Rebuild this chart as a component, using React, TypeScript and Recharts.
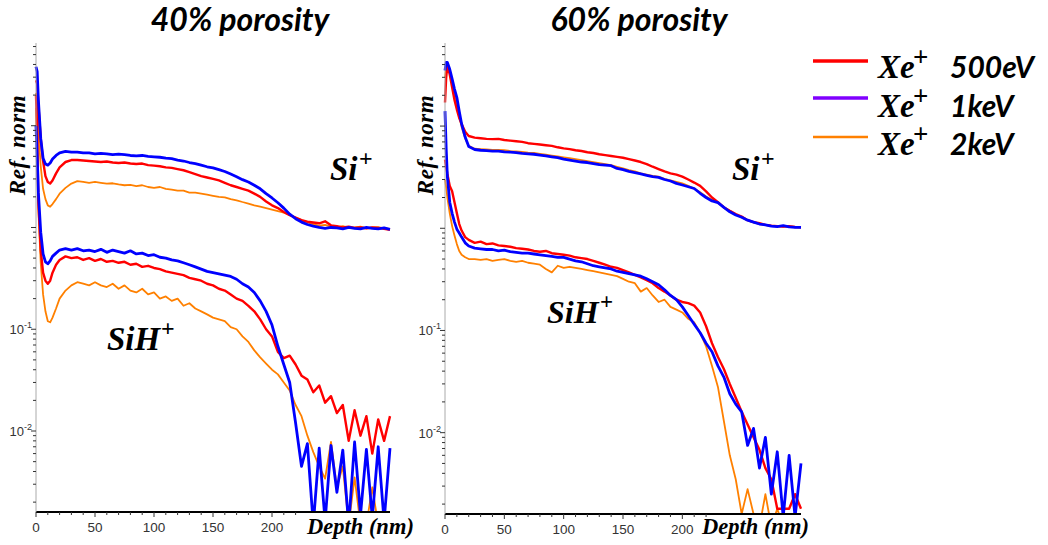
import React from "react";
import { Line, LineChart, XAxis, YAxis } from "recharts";

// depth grid (nm), shared by every series below
const DEPTH = [
  0, 1, 2, 4, 6, 8, 10, 12, 14, 17,
  20, 25, 30, 35, 40, 45, 50, 55, 60, 65,
  70, 75, 80, 85, 90, 95, 100, 105, 110, 115,
  120, 125, 130, 135, 140, 145, 150, 155, 160, 165,
  170, 175, 180, 185, 190, 195, 200, 205, 210, 215,
  220, 225, 230, 235, 240, 245, 250, 255, 260, 265,
  270, 275, 280, 285, 290, 295, 300,
];

// ---- 40% porosity ----
const SI_500_40 = [
  28, 26, 16, 7.5, 4.5, 3.2, 2.8, 2.7, 2.9, 3.4,
  3.9, 4.4, 4.6, 4.6, 4.55, 4.5, 4.45, 4.4, 4.45, 4.35,
  4.3, 4.35, 4.25, 4.2, 4.25, 4.1, 4.05, 4.0, 3.9, 3.85,
  3.75, 3.65, 3.5, 3.35, 3.2, 3.1, 3.0, 2.9, 2.75, 2.6,
  2.5, 2.4, 2.3, 2.15, 2.0, 1.8, 1.65, 1.55, 1.42, 1.32,
  1.25, 1.18, 1.14, 1.12, 1.1, 1.15, 1.05, 1.03, 1.0, 1.02,
  0.99, 1.0, 0.98, 1.0, 0.99, 0.97, 0.95,
];
const SI_1K_40 = [
  38, 34, 18, 7.5, 4.8, 4.2, 4.1, 4.3, 4.7, 5.1,
  5.4, 5.6, 5.5, 5.5, 5.4, 5.4, 5.3, 5.35, 5.3, 5.2,
  5.25, 5.2, 5.1, 5.05, 5.1, 5.0, 4.95, 4.9, 4.8, 4.75,
  4.6, 4.5, 4.35, 4.25, 4.1, 3.95, 3.85, 3.7, 3.55, 3.35,
  3.15, 2.95, 2.8, 2.6, 2.4, 2.15, 1.95, 1.75, 1.55, 1.35,
  1.22, 1.13, 1.07, 1.03, 1.0, 0.98, 1.0, 0.99, 0.97, 1.0,
  0.98, 0.97, 1.0, 0.98, 0.97, 0.99, 0.96,
];
const SI_2K_40 = [
  21, 18, 9, 4.0, 2.4, 1.9, 1.65, 1.6, 1.7, 1.9,
  2.15, 2.45, 2.7, 2.85, 2.8, 2.75, 2.8, 2.75, 2.7, 2.72,
  2.65, 2.6, 2.62, 2.55, 2.6, 2.5, 2.45, 2.5, 2.4, 2.35,
  2.3, 2.3, 2.2, 2.2, 2.15, 2.1, 2.05, 2.0, 1.98, 1.9,
  1.85, 1.78, 1.72, 1.65, 1.6, 1.55, 1.5, 1.45, 1.4, 1.33,
  1.25, 1.18, 1.12, 1.08, 1.04, 1.06, 1.02, 1.0, 1.03, 0.99,
  1.0, 1.02, 0.98, 1.0, 1.01, 0.98, 0.97,
];
const SIH_500_40 = [
  20, 9, 1.8, 0.6, 0.36, 0.3, 0.28, 0.3, 0.36, 0.43,
  0.48, 0.52, 0.5, 0.51, 0.48, 0.5, 0.47, 0.49, 0.46, 0.47,
  0.45, 0.46, 0.43, 0.44, 0.41, 0.42, 0.4, 0.39, 0.37, 0.36,
  0.35, 0.34, 0.32, 0.31, 0.3, 0.28, 0.27, 0.25, 0.24, 0.22,
  0.2, 0.19, 0.17, 0.15, 0.125, 0.1, 0.085, 0.06, 0.052, 0.055,
  0.045, 0.035, 0.032, 0.024, 0.028, 0.019, 0.022, 0.015, 0.018, 0.008,
  0.016, 0.009, 0.014, 0.006, 0.013, 0.008, 0.014,
];
const SIH_1K_40 = [
  10, 5, 2.2, 0.9, 0.55, 0.46, 0.44, 0.47, 0.52, 0.56,
  0.6, 0.62, 0.6, 0.62, 0.59, 0.6, 0.58, 0.61, 0.57, 0.6,
  0.58, 0.56, 0.59, 0.55, 0.56, 0.53, 0.54, 0.51, 0.5, 0.48,
  0.47, 0.45, 0.43, 0.41, 0.39, 0.37, 0.36, 0.35, 0.34, 0.33,
  0.31, 0.28, 0.26, 0.23, 0.19, 0.15, 0.11, 0.068, 0.045, 0.03,
  0.012, 0.0045, 0.0075, 0.0012, 0.0068, 0.0013, 0.0072, 0.0025, 0.0065, 0.0012,
  0.0078, 0.0015, 0.0066, 0.0014, 0.007, 0.0013, 0.0068,
];
const SIH_2K_40 = [
  15, 6, 1.5, 0.45, 0.22, 0.15, 0.12, 0.117, 0.13, 0.16,
  0.2, 0.24, 0.27, 0.29, 0.28, 0.27, 0.29, 0.27, 0.26, 0.28,
  0.25, 0.27, 0.24, 0.23, 0.25, 0.22, 0.23, 0.2, 0.21, 0.19,
  0.2, 0.17, 0.18, 0.16, 0.15, 0.14, 0.13, 0.125, 0.12, 0.105,
  0.1, 0.085, 0.075, 0.062, 0.053, 0.046, 0.04, 0.036, 0.03, 0.025,
  0.018, 0.014, 0.009, 0.0062, 0.0045, 0.0034, 0.0078, 0.0028, 0.0045, 0.0012,
  0.0035, 0.0012, 0.0012, 0.0028, 0.0012, 0.0012, 0.0012,
];

// ---- 60% porosity ----
const SI_500_60 = [
  17, 30, 39, 32, 24, 18, 14.5, 12, 10.5, 8.8,
  8.0, 7.7, 7.6, 7.5, 7.45, 7.5, 7.3, 7.2, 7.1, 7.0,
  6.8, 6.7, 6.6, 6.5, 6.4, 6.2, 6.05, 5.95, 5.8, 5.7,
  5.55, 5.45, 5.3, 5.2, 5.1, 5.0, 4.9, 4.75, 4.6, 4.45,
  4.25, 4.0, 3.8, 3.6, 3.45, 3.35, 3.2, 3.0, 2.8, 2.6,
  2.3, 2.0, 1.8, 1.6, 1.48, 1.38, 1.3, 1.2, 1.15, 1.12,
  1.08, 1.06, 1.05, 1.04, 1.05, 1.03, 1.02,
];
const SI_1K_60 = [
  35, 42, 42, 36, 29, 23, 19, 14, 10.5, 7.8,
  6.3, 5.9, 5.8, 5.75, 5.7, 5.7, 5.6, 5.55, 5.5, 5.4,
  5.35, 5.3, 5.2, 5.1, 5.0, 4.9, 4.75, 4.65, 4.55, 4.45,
  4.4, 4.3, 4.2, 4.15, 4.1, 3.85, 3.75, 3.6, 3.5, 3.4,
  3.3, 3.2, 3.15, 3.0, 2.9, 2.75, 2.65, 2.55, 2.45, 2.2,
  2.0, 1.85, 1.78, 1.6, 1.45, 1.35, 1.28, 1.2, 1.15, 1.1,
  1.08, 1.05, 1.04, 1.06, 1.03, 1.02, 1.02,
];
const SI_2K_60 = [
  30, 36, 38, 34, 27, 21, 16, 12.5, 9.8, 7.6,
  6.4, 6.0, 5.95, 5.9, 5.85, 5.85, 5.8, 5.7, 5.65, 5.6,
  5.5, 5.45, 5.35, 5.25, 5.15, 5.05, 4.95, 4.85, 4.75, 4.65,
  4.55, 4.45, 4.35, 4.25, 4.15, 4.0, 3.85, 3.7, 3.6, 3.45,
  3.35, 3.25, 3.2, 3.05, 2.95, 2.85, 2.75, 2.6, 2.45, 2.25,
  2.05, 1.9, 1.78, 1.62, 1.48, 1.37, 1.28, 1.2, 1.14, 1.1,
  1.08, 1.05, 1.05, 1.04, 1.04, 1.03, 1.03,
];
const SIH_500_60 = [
  4.7, 4.0, 3.4, 2.6, 2.3, 1.8, 1.4, 1.1, 0.95, 0.82,
  0.77, 0.72, 0.74, 0.7, 0.71, 0.68, 0.67, 0.66, 0.64, 0.63,
  0.62, 0.6, 0.59, 0.6, 0.57, 0.56, 0.55, 0.54, 0.52, 0.51,
  0.5, 0.48, 0.46, 0.44, 0.42, 0.41, 0.39, 0.37, 0.35, 0.33,
  0.31, 0.29, 0.26, 0.24, 0.22, 0.2, 0.19, 0.185, 0.175, 0.15,
  0.11, 0.075, 0.055, 0.042, 0.03, 0.022, 0.016, 0.012, 0.009, 0.0068,
  0.0045, 0.0035, 0.0018, 0.0018, 0.0018, 0.0025, 0.0018,
];
const SIH_1K_60 = [
  14, 6, 3.2, 1.8, 1.4, 1.15, 0.98, 0.9, 0.82, 0.72,
  0.67, 0.64, 0.63, 0.62, 0.62, 0.6, 0.61, 0.59, 0.58, 0.57,
  0.57, 0.56, 0.55, 0.54, 0.53, 0.52, 0.52, 0.5, 0.48, 0.47,
  0.45, 0.43, 0.42, 0.41, 0.4, 0.38, 0.37, 0.36, 0.35, 0.34,
  0.32, 0.3, 0.28, 0.25, 0.22, 0.2, 0.17, 0.14, 0.115, 0.095,
  0.075, 0.062, 0.045, 0.035, 0.024, 0.019, 0.016, 0.0075, 0.011, 0.0045,
  0.009, 0.0025, 0.0065, 0.0015, 0.006, 0.0015, 0.005,
];
const SIH_2K_60 = [
  3.0, 2.5, 2.0, 1.4, 1.05, 0.85, 0.7, 0.6, 0.55, 0.52,
  0.5, 0.5, 0.49, 0.5, 0.48, 0.49, 0.5, 0.48, 0.47, 0.48,
  0.46, 0.45, 0.44, 0.4, 0.37, 0.43, 0.41, 0.42, 0.41, 0.4,
  0.39, 0.38, 0.37, 0.36, 0.35, 0.34, 0.32, 0.3, 0.29, 0.24,
  0.26, 0.22, 0.19, 0.2, 0.17, 0.16, 0.15, 0.13, 0.12, 0.095,
  0.07, 0.045, 0.028, 0.013, 0.006, 0.0035, 0.0016, 0.0028, 0.0016, 0.0012,
  0.0025, 0.0012, 0.0018, 0.0012, 0.0012, 0.0012, 0.0012,
];

const X_TICKS = [0, 10, 20, 30, 40, 50, 60, 70, 80, 90, 100, 110, 120, 130, 140, 150, 160, 170, 180, 190, 200, 210, 220];
const X_LABELS = [0, 50, 100, 150, 200];
const TOP_TICKS = [
  0, 10, 20, 30, 40, 50, 60, 70, 80, 90, 100, 110, 120, 130, 140, 150,
  160, 170, 180, 190, 200, 210, 220, 230, 240, 250, 260, 270, 280, 290, 300,
];
const Y_TICKS = [
  0.002, 0.003, 0.004, 0.005, 0.006, 0.007, 0.008, 0.009,
  0.01, 0.02, 0.03, 0.04, 0.05, 0.06, 0.07, 0.08, 0.09,
  0.1, 0.2, 0.3, 0.4, 0.5, 0.6, 0.7, 0.8, 0.9,
  1, 2, 3, 4, 5, 6, 7, 8, 9,
  10, 20, 30, 40, 50, 60,
];
const Y_LABELED = [0.1, 0.01];
const TITLES = ["40% porosity", "60% porosity"];
const LEGEND_LABELS = ["500eV", "1keV", "2keV"];
const LEGEND_COLORS = ["#ff0000", "#8000ff", "#ff8000"];

const rows40 = DEPTH.map((d, i) => ({
  depth: d,
  si500: SI_500_40[i],
  si1k: SI_1K_40[i],
  si2k: SI_2K_40[i],
  sih500: SIH_500_40[i],
  sih1k: SIH_1K_40[i],
  sih2k: SIH_2K_40[i],
}));
const rows60 = DEPTH.map((d, i) => ({
  depth: d,
  si500: SI_500_60[i],
  si1k: SI_1K_60[i],
  si2k: SI_2K_60[i],
  sih500: SIH_500_60[i],
  sih1k: SIH_1K_60[i],
  sih2k: SIH_2K_60[i],
}));

// drawing order: orange, red, blue on top
const SERIES = [
  { key: "si2k", color: "#ff8000", width: 1.8 },
  { key: "sih2k", color: "#ff8000", width: 1.8 },
  { key: "si500", color: "#ff0000", width: 2.4 },
  { key: "sih500", color: "#ff0000", width: 2.4 },
  { key: "si1k", color: "#0000ff", width: 2.8 },
  { key: "sih1k", color: "#0000ff", width: 2.8 },
];

const SANS = "'Liberation Sans', Arial, sans-serif";
const SERIF = "'Liberation Serif', 'Times New Roman', serif";
const CALIBRI = "Lato, 'Open Sans', sans-serif";

const YTick = (props: any) => {
  const { x, y, payload } = props;
  const v = Number(payload.value);
  const e = Math.round(Math.log10(v));
  const major = Math.abs(Math.log10(v) - e) < 1e-9;
  return (
    <g>
      <line x1={x - (major ? 5 : 3)} x2={x} y1={y} y2={y} stroke="#333" />
      {Y_LABELED.includes(v) && (
        <g fontFamily={SANS} fill="#333">
          <text x={x - 12} y={y + 5} textAnchor="end" fontSize={13}>
            10
          </text>
          <text x={x - 12} y={y - 1} fontSize={9}>
            {e}
          </text>
        </g>
      )}
    </g>
  );
};

const XTick = (props: any) => {
  const { x, y, payload } = props;
  const v = Number(payload.value);
  const major = v % 50 === 0;
  return (
    <g>
      <line x1={x} x2={x} y1={y} y2={y + (major ? 5 : 3)} stroke="#333" />
      {X_LABELS.includes(v) && (
        <text x={x} y={y + 20} textAnchor="middle" fontSize={13.5} fontFamily={SANS} fill="#333">
          {v}
        </text>
      )}
    </g>
  );
};

const TopTick = (props: any) => {
  const { x, y } = props;
  return <line x1={x} x2={x} y1={y} y2={y + 4} stroke="#555" />;
};

function Panel({ rows, right, bottom }: { rows: any[]; right: number; bottom: number }) {
  return (
    <LineChart width={400} height={545} data={rows} margin={{ top: 43, right, bottom, left: 0 }}>
      <XAxis
        xAxisId="top"
        orientation="top"
        type="number"
        dataKey="depth"
        domain={[0, 300]}
        ticks={TOP_TICKS}
        interval={0}
        height={0}
        tickSize={0}
        tickMargin={0}
        tick={<TopTick />}
        axisLine={{ stroke: "#999" }}
      />
      <XAxis
        type="number"
        dataKey="depth"
        domain={[0, 300]}
        ticks={X_TICKS}
        interval={0}
        height={30}
        tickSize={0}
        tickMargin={0}
        tick={<XTick />}
        axisLine={{ stroke: "#000", strokeWidth: 2 }}
      />
      <YAxis
        type="number"
        scale="log"
        domain={[0.0016, 65]}
        allowDataOverflow
        ticks={Y_TICKS}
        interval={0}
        width={36}
        tickSize={0}
        tickMargin={0}
        tick={<YTick />}
        axisLine={{ stroke: "#aaa" }}
      />
      <YAxis
        yAxisId="right"
        orientation="right"
        type="number"
        domain={[0, 1]}
        width={0}
        tick={false}
        axisLine={{ stroke: "#666", strokeWidth: 2 }}
      />
      {SERIES.map((s) => (
        <Line
          key={s.key}
          type="linear"
          dataKey={s.key}
          stroke={s.color}
          strokeWidth={s.width}
          strokeLinejoin="round"
          dot={false}
          isAnimationActive={false}
        />
      ))}
    </LineChart>
  );
}

function Overlay() {
  const lab = { fontFamily: SERIF, fontWeight: 700, fontStyle: "italic" as const, fill: "#000" };
  const plus = { fontFamily: SERIF, fontWeight: 700, fill: "#000" };
  return (
    <svg width={1048} height={545} style={{ position: "absolute", left: 0, top: 0, pointerEvents: "none" }}>
      {TITLES.map((t, i) => (
        <text key={t} x={i === 0 ? 240 : 639} y={31} textAnchor="middle" fontFamily={CALIBRI} fontWeight={700} fontStyle="italic" fontSize={32}>
          {t}
        </text>
      ))}
      {[25, 433].map((x) => (
        <text key={x} transform={`translate(${x},145) rotate(-90)`} textAnchor="middle" fontSize={23} letterSpacing={0.5} {...lab}>
          Ref. norm
        </text>
      ))}
      {/* ion labels */}
      <text x={330} y={180} fontSize={33} {...lab}>Si</text>
      <text x={359} y={166} fontSize={24} {...plus}>+</text>
      <text x={732} y={180} fontSize={33} {...lab}>Si</text>
      <text x={761} y={166} fontSize={24} {...plus}>+</text>
      <text x={107} y={350} fontSize={33} {...lab}>SiH</text>
      <text x={161} y={336} fontSize={24} {...plus}>+</text>
      <text x={547} y={323} fontSize={32} {...lab}>SiH</text>
      <text x={600} y={309} fontSize={23} {...plus}>+</text>
      {[307, 702].map((x) => (
        <text key={x} x={x} y={534} fontSize={22.5} {...lab}>
          Depth (nm)
        </text>
      ))}
      {/* legend */}
      {LEGEND_LABELS.map((l, i) => {
        const y = [61, 98, 137][i];
        const base = [78, 117, 155][i];
        return (
          <g key={l}>
            <line x1={813} x2={868} y1={y} y2={y} stroke={LEGEND_COLORS[i]} strokeWidth={i === 2 ? 2.5 : 3.5} />
            <text x={878} y={base} fontSize={33} {...lab}>Xe</text>
            <text x={913} y={base - 12} fontSize={27} {...plus}>+</text>
            <text x={950} y={base} fontSize={30} fontFamily={CALIBRI} fontWeight={700} fontStyle="italic">
              {l}
            </text>
          </g>
        );
      })}
    </svg>
  );
}

export default function App() {
  return (
    <div style={{ position: "absolute", left: 0, top: 0, width: 1048, height: 545, background: "#fff", overflow: "hidden" }}>
      <div style={{ position: "absolute", left: 0, top: 0 }}>
        <Panel rows={rows40} right={10} bottom={3} />
      </div>
      <div style={{ position: "absolute", left: 409, top: 0 }}>
        <Panel rows={rows60} right={8} bottom={1} />
      </div>
      <Overlay />
    </div>
  );
}
